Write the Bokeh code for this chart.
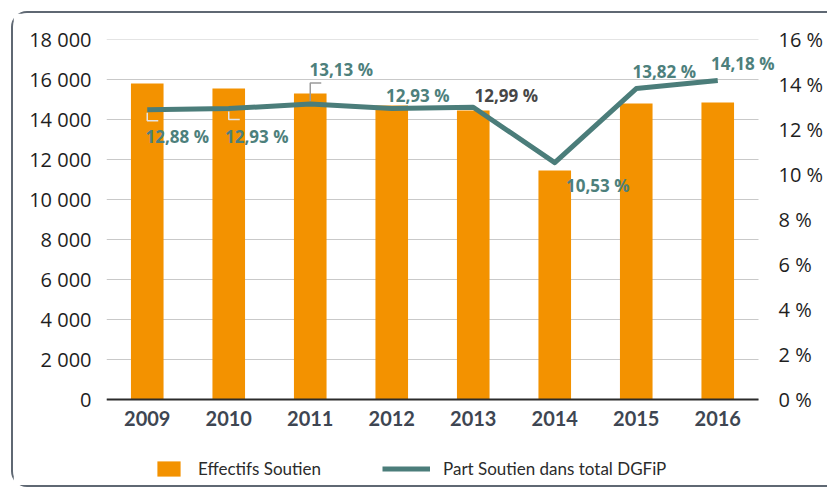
from bokeh.plotting import figure
from bokeh.models import (Range1d, LinearAxis, FixedTicker, Legend, LegendItem, ColumnDataSource)
from bokeh.core.properties import value
from bokeh.embed import file_html
from bokeh.resources import INLINE

# ---- data ----
years = ["2009", "2010", "2011", "2012", "2013", "2014", "2015", "2016"]
effectifs = [15800, 15550, 15300, 14700, 14450, 11450, 14800, 14850]
part = [12.88, 12.93, 13.13, 12.93, 12.99, 10.53, 13.82, 14.18]
part_labels = ["12,88 %", "12,93 %", "13,13 %", "12,93 %", "12,99 %", "10,53 %", "13,82 %", "14,18 %"]
left_ticks = [0, 2000, 4000, 6000, 8000, 10000, 12000, 14000, 16000, 18000]
left_labels = ["0", "2 000", "4 000", "6 000", "8 000", "10 000", "12 000", "14 000", "16 000", "18 000"]
right_ticks = [0, 2, 4, 6, 8, 10, 12, 14, 16]
right_labels = ["0 %", "2 %", "4 %", "6 %", "8 %", "10 %", "12 %", "14 %", "16 %"]

# ---- label placement (pixel offsets from each point) ----
lbl_dx = [30, 28, 31, 26, 33, 43, 28, 25]
lbl_dy = [27, 28, -35, -13, -12, 23, -17, -17]
lbl_color = ["#4d807c", "#4d807c", "#4d807c", "#4d807c", "#474747", "#4d807c", "#4d807c", "#4d807c"]

ORANGE = "#f39200"
TEAL = "#4b7d7a"
GRID = "#c9c9c9"
BORDER = "#5f6873"

# ---- layout (pixels) ----
W, H = 816, 476
ML, MT = 93, 26
CAT_PX = 81.5                  # pixels per category
FRAME_W = 670                  # plot area (extends right to leave room for the last label)
MR = W - ML - FRAME_W
ZERO_FROM_BOTTOM = 90          # pixels between the zero line and the bottom of the plot area
PX_PER_UNIT_L = 360 / 18000
PX_PER_UNIT_R = 360 / 16
n = len(years)
x_end = -0.5 + FRAME_W / CAT_PX
yl_min = -ZERO_FROM_BOTTOM / PX_PER_UNIT_L
yr_min = -ZERO_FROM_BOTTOM / PX_PER_UNIT_R

p = figure(width=W, height=H, output_backend="svg", toolbar_location=None,
           x_range=Range1d(-0.5, x_end), y_range=Range1d(yl_min, 18000),
           min_border_left=ML, min_border_right=MR, min_border_top=MT, min_border_bottom=0,
           styles={"margin-left": "11px", "margin-top": "11px",
                   "border-left": f"2px solid {BORDER}", "border-top": f"2px solid {BORDER}",
                   "border-bottom": f"2px solid {BORDER}",
                   "border-top-left-radius": "16px", "border-bottom-left-radius": "16px"})
p.extra_y_ranges = {"pct": Range1d(yr_min, 16)}
p.outline_line_color = None

idx = list(range(n))

# grid (limited to the category span)
p.xgrid.visible = False
p.ygrid.visible = False
p.segment(x0=[-0.5] * len(left_ticks), x1=[n - 0.5] * len(left_ticks),
          y0=left_ticks, y1=left_ticks, line_color=GRID, line_width=1)

bars = p.vbar(x=idx, top=effectifs, width=0.4, fill_color=ORANGE, line_color=None)
# base axis line
p.segment(x0=[-0.5], x1=[n - 0.5], y0=[0], y1=[0], line_color="#2b2b2b", line_width=2)

line = p.line(idx, part, y_range_name="pct", line_color=TEAL, line_width=5, line_join="round")

# leader lines
leaders = [(0, 11, "#e4e4e4"), (1, 11, "#e4e4e4"), (2, -21, "#9a9a9a")]
for i, dpx, col in leaders:
    y0 = part[i] - (3 if dpx > 0 else -3) / PX_PER_UNIT_R
    y1 = part[i] - dpx / PX_PER_UNIT_R
    p.line([i, i, i + 11 / CAT_PX], [y0, y1, y1], y_range_name="pct", line_color=col, line_width=1.5)

src = ColumnDataSource(dict(x=idx, y=part, t=part_labels, dx=lbl_dx, dy=lbl_dy, c=lbl_color))
p.text(x="x", y="y", text="t", x_offset="dx", y_offset="dy", text_color="c", source=src,
       y_range_name="pct", text_align="center", text_baseline="middle",
       text_font=value("Open Sans"), text_font_style="bold", text_font_size="17px")

# axes
xa = p.xaxis[0]
xa.fixed_location = 0
xa.ticker = FixedTicker(ticks=idx)
xa.major_label_overrides = {i: y for i, y in zip(idx, years)}
xa.axis_line_color = None
xa.major_tick_line_color = None
xa.minor_tick_line_color = None
xa.major_tick_out = 0
xa.major_label_standoff = 11
xa.major_label_text_font = "Lato"
xa.major_label_text_font_style = "bold"
xa.major_label_text_font_size = "20px"
xa.major_label_text_color = "#3e4652"

ya = p.yaxis[0]
ya.ticker = FixedTicker(ticks=left_ticks)
ya.major_label_overrides = {t: l for t, l in zip(left_ticks, left_labels)}
ya.axis_line_color = None
ya.major_tick_line_color = None
ya.minor_tick_line_color = None
ya.major_tick_out = 0
ya.major_label_standoff = 15
ya.major_label_text_font = "Open Sans"
ya.major_label_text_font_size = "20px"
ya.major_label_text_color = "#1e1e1e"

ra = LinearAxis(y_range_name="pct", ticker=FixedTicker(ticks=right_ticks))
ra.major_label_overrides = {t: l for t, l in zip(right_ticks, right_labels)}
ra.axis_line_color = None
ra.major_tick_line_color = None
ra.minor_tick_line_color = None
ra.major_tick_out = 0
ra.major_label_standoff = 2
ra.major_label_text_font = "Open Sans"
ra.major_label_text_font_size = "20px"
ra.major_label_text_color = "#1e1e1e"
p.add_layout(ra, "right")

# legends
common = dict(orientation="horizontal", padding=0, margin=0, border_line_color=None,
              background_fill_alpha=0, label_text_font="Lato", label_text_font_size="17px",
              label_text_color="#2b2b2b", glyph_height=19, label_height=19)
leg1 = Legend(items=[LegendItem(label="Effectifs Soutien", renderers=[bars])],
              location=(48, 10), glyph_width=29, label_standoff=15, **common)
leg2 = Legend(items=[LegendItem(label="Part Soutien dans total DGFiP", renderers=[line])],
              location=(276, 10), glyph_width=48, label_standoff=13, **common)
p.add_layout(leg1)
p.add_layout(leg2)

open("out.html", "w").write(file_html(p, INLINE))
